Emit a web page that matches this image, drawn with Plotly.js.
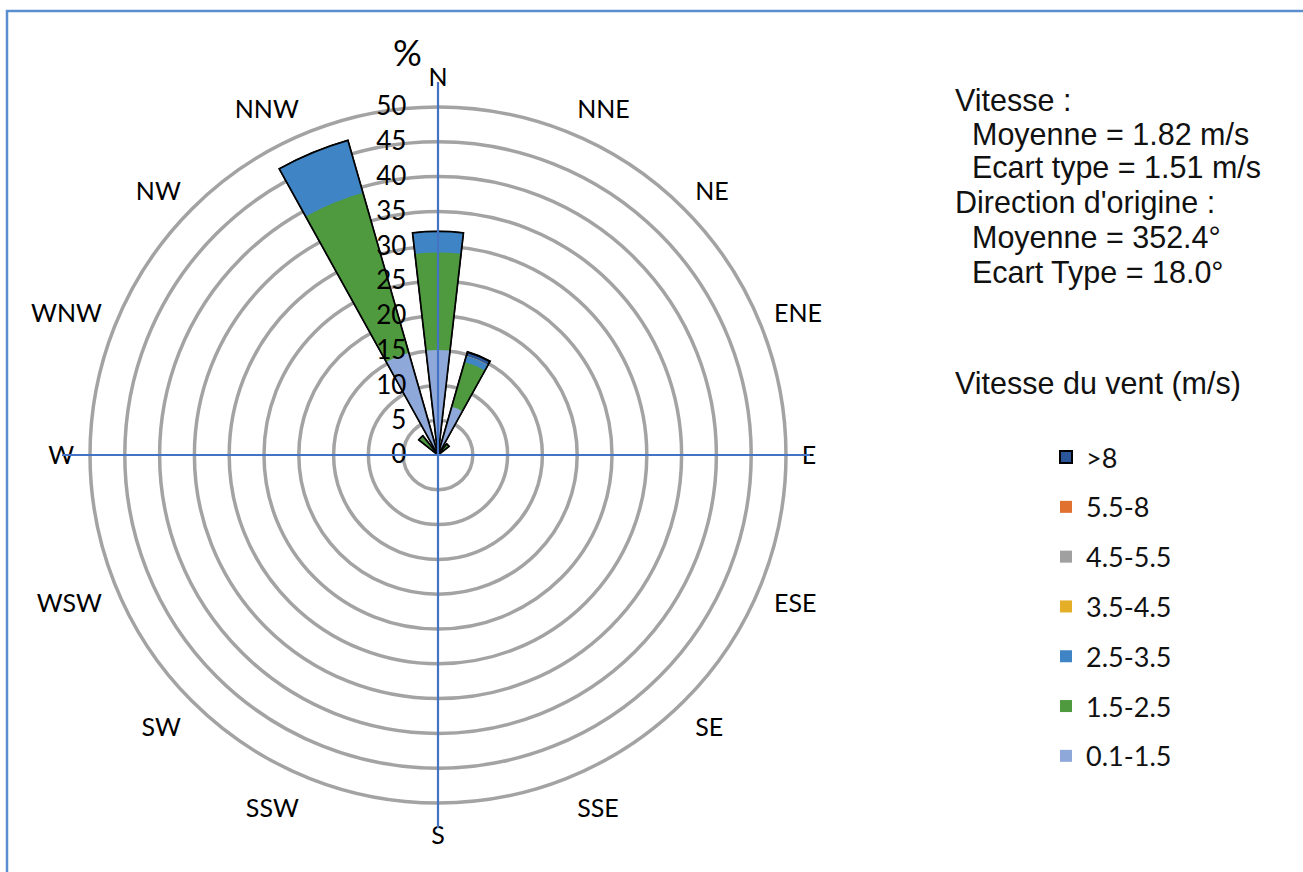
<!DOCTYPE html>
<html>
<head>
<meta charset="utf-8">
<script src="https://cdn.plot.ly/plotly-3.0.1.min.js"></script>
<style>html,body{margin:0;padding:0;background:#fff;}#chart{width:1303px;height:872px;}</style>
</head>
<body>
<div id="chart"></div>
<script>
// ---- data ----
const directions = ['N','NNE','NE','ENE','E','ESE','SE','SSE','S','SSW','SW','WSW','W','WNW','NW','NNW'];
const speedClasses = ['0.1-1.5','1.5-2.5','2.5-3.5','3.5-4.5','4.5-5.5','5.5-8','>8'];
const v_01_15 = [15.1, 7.2, 0.3, 0, 0, 0, 0, 0, 0, 0, 0, 0, 0, 0, 0.5, 15.3];
const v_15_25 = [14.0, 6.7, 1.7, 0, 0, 0, 0, 0, 0, 0, 0, 0, 0, 0, 3.0, 23.9];
const v_25_35 = [3.0, 0.9, 0, 0, 0, 0, 0, 0, 0, 0, 0, 0, 0, 0, 0, 7.8];
const v_35_45 = [0, 0, 0, 0, 0, 0, 0, 0, 0, 0, 0, 0, 0, 0, 0, 0];
const v_45_55 = [0, 0, 0, 0, 0, 0, 0, 0, 0, 0, 0, 0, 0, 0, 0, 0];
const v_55_8  = [0, 0, 0, 0, 0, 0, 0, 0, 0, 0, 0, 0, 0, 0, 0, 0];
const v_gt8   = [0, 0.6, 0, 0, 0, 0, 0, 0, 0, 0, 0, 0, 0, 0, 0, 0];
const radialTicks = [0,5,10,15,20,25,30,35,40,45,50];
const statLines = ['Vitesse :', 'Moyenne = 1.82 m/s', 'Ecart type = 1.51 m/s', "Direction d'origine :", 'Moyenne = 352.4°', 'Ecart Type = 18.0°'];
const legendTitle = 'Vitesse du vent (m/s)';

// ---- styles ----
const colors = ['#8EA8DA','#4F9A3F','#3F85C5','#E4AF27','#A0A0A0','#E0712F','#2B579A'];
const series = [v_01_15, v_15_25, v_25_35, v_35_45, v_45_55, v_55_8, v_gt8];

const W = 1303, H = 872;
const cx = 438, cy = 455, R = 348;
const theta = directions.map((d, i) => i * 360 / directions.length);

// cumulative sums (stacked wind rose drawn as overlaid cumulative wedges)
const cum = [];
series.forEach((s, k) => {
  cum.push(s.map((v, i) => v + (k ? cum[k-1][i] : 0)));
});

const traces = [];
for (let k = series.length - 1; k >= 0; k--) {
  traces.push({
    type: 'barpolar',
    name: speedClasses[k],
    r: cum[k],
    theta: theta,
    width: 13,
    legendgroup: 'g' + k,
    marker: {
      color: colors[k],
      line: k === series.length - 1 ? {color: '#000', width: 2} : {width: 0}
    },
    hovertemplate: '%{theta}: %{r}<extra>' + speedClasses[k] + '</extra>'
  });
}
// outline of each wedge
traces.push({
  type: 'barpolar',
  r: cum[cum.length-1].map(v => v > 0 ? v : null),
  theta: theta,
  width: 13,
  showlegend: false,
  hoverinfo: 'skip',
  marker: {color: 'rgba(0,0,0,0)', line: {color: '#000', width: 1.5}}
});

const px = x => x / W;
const py = y => 1 - y / H;
const txtFont = {family: 'Liberation Sans, Arial, sans-serif', size: 30.5, color: '#111'};

const annotations = [
  {text: '%', x: px(407), y: py(52), xref: 'paper', yref: 'paper', showarrow: false,
   xanchor: 'center', yanchor: 'middle', font: {family: 'Lato, sans-serif', size: 36, color: '#000'}},
  {text: legendTitle, x: px(953), y: py(383), xref: 'paper', yref: 'paper', showarrow: false,
   xanchor: 'left', yanchor: 'middle', font: txtFont}
];
const statX = [953, 970, 970, 953, 970, 970];
const statY = [100, 134, 168, 203, 238, 272];
statLines.forEach((t, i) => annotations.push({
  text: t, x: px(statX[i]), y: py(statY[i]), xref: 'paper', yref: 'paper', showarrow: false,
  xanchor: 'left', yanchor: 'middle', font: txtFont
}));

const layout = {
  width: W, height: H,
  margin: {l: 0, r: 0, t: 0, b: 0},
  paper_bgcolor: '#fff',
  font: {family: 'Lato, sans-serif', color: '#000'},
  showlegend: true,
  legend: {
    x: px(1046), y: py(433), xanchor: 'left', yanchor: 'top',
    font: {family: 'Lato, sans-serif', size: 27, color: '#111'},
    tracegroupgap: 11.7, traceorder: 'grouped', bgcolor: 'rgba(0,0,0,0)'
  },
  polar: {
    domain: {x: [px(cx - R), px(cx + R)], y: [py(cy + R), py(cy - R)]},
    bgcolor: 'rgba(0,0,0,0)',
    barmode: 'overlay',
    radialaxis: {
      range: [0, 50], tickvals: radialTicks, angle: 90, side: 'counterclockwise',
      showline: false, showgrid: true, gridcolor: '#A3A3A3', gridwidth: 3.5,
      ticks: 'outside', ticklen: 22, tickcolor: 'rgba(0,0,0,0)',
      tickfont: {family: 'Lato, sans-serif', size: 26, color: '#000'}, tickangle: 90
    },
    angularaxis: {
      type: 'linear', rotation: 90, direction: 'clockwise',
      tickvals: theta, ticktext: directions,
      showgrid: false, showline: true, linecolor: '#A3A3A3', linewidth: 3.5,
      ticks: 'outside', ticklen: 9, tickcolor: 'rgba(0,0,0,0)',
      tickfont: {family: 'Lato, sans-serif', size: 25, color: '#000'}
    }
  },
  shapes: [
    {type: 'line', xref: 'paper', yref: 'paper', x0: px(cx), x1: px(cx), y0: py(82), y1: py(828),
     line: {color: '#4472C4', width: 2.2}, layer: 'above'},
    {type: 'line', xref: 'paper', yref: 'paper', x0: px(62), x1: px(810), y0: py(cy), y1: py(cy),
     line: {color: '#4472C4', width: 2.2}, layer: 'above'},
    {type: 'rect', xref: 'paper', yref: 'paper', x0: px(7), x1: px(1320), y0: py(11), y1: py(900),
     line: {color: '#5A8ED0', width: 2.5}, fillcolor: 'rgba(0,0,0,0)', layer: 'above'}
  ],
  annotations: annotations
};

Plotly.newPlot('chart', traces, layout, {displayModeBar: false, staticPlot: true});
</script>
</body>
</html>
